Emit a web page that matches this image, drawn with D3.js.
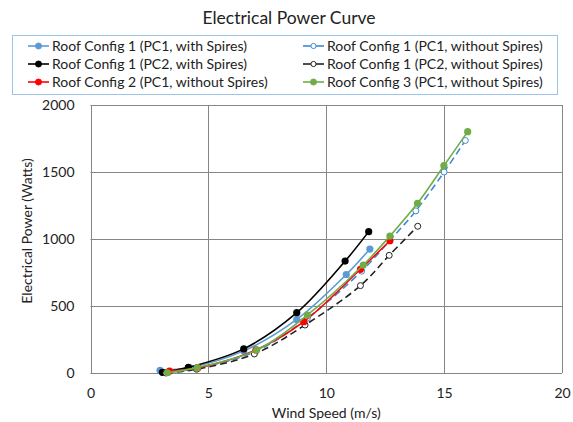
<!DOCTYPE html>
<html lang="en">

<head>
    <meta charset="utf-8">
    <style>
        body {
            margin: 0;
            background: #fff;
            font-family: Lato, 'Open Sans', sans-serif;
        }
    </style>
</head>

<body>
    <div class='chart'></div>
    <script src="https://d3js.org/d3.v7.min.js"></script>
    <script>
        // values: [wind speed, power]
        const pc1With = [[2.95, 20], [4.2, 40], [6.5, 165], [8.75, 400], [10.85, 735], [11.85, 925]];
        const pc1Without = [[3.3, 5], [4.5, 35], [7.0, 160], [9.2, 410], [11.5, 760], [12.7, 990], [13.8, 1210], [15.0, 1500], [15.9, 1735]];
        const pc2With = [[3.05, 5], [4.15, 42], [6.5, 180], [8.75, 450], [10.8, 835], [11.8, 1055]];
        const pc2Without = [[3.2, 0], [4.5, 28], [6.95, 142], [9.1, 358], [11.45, 652], [12.67, 878], [13.88, 1095]];
        const cfg2Without = [[3.35, 15], [4.55, 38], [7.02, 172], [9.05, 383], [11.45, 774], [12.7, 987]];
        const cfg3Without = [[3.26, 2], [4.53, 40], [7.05, 172], [9.2, 433], [11.57, 806], [12.7, 1022], [13.87, 1266], [14.99, 1547], [16.0, 1801]];

        const xTicks = [0, 5, 10, 15, 20];
        const yTicks = [0, 500, 1000, 1500, 2000];

        const series = [
            { name: 'Roof Config 1 (PC1, with Spires)', data: pc1With, color: '#5b9bd5', dash: null, open: false },
            { name: 'Roof Config 1 (PC1, without Spires)', data: pc1Without, color: '#3c8ad6', dash: '7,4', open: true },
            { name: 'Roof Config 1 (PC2, with Spires)', data: pc2With, color: '#000000', dash: null, open: false },
            { name: 'Roof Config 1 (PC2, without Spires)', data: pc2Without, color: '#222222', dash: '7,4', open: true },
            { name: 'Roof Config 2 (PC1, without Spires)', data: cfg2Without, color: '#ff0000', dash: null, open: false },
            { name: 'Roof Config 3 (PC1, without Spires)', data: cfg3Without, color: '#70ad47', dash: null, open: false }
        ];

        const width = 573, height = 422;
        const pLeft = 90.5, pRight = 562, pTop = 105, pBottom = 373;

        const svg = d3.select('.chart').append('svg')
            .attr('width', width)
            .attr('height', height);

        const x = d3.scaleLinear().domain([0, 20]).range([pLeft, pRight]);
        const y = d3.scaleLinear().domain([0, 2000]).range([pBottom, pTop]);

        // title
        svg.append('text')
            .attr('x', 289).attr('y', 24)
            .attr('text-anchor', 'middle')
            .style('font-size', '17.5px').style('fill', '#222')
            .text('Electrical Power Curve');

        // grid
        svg.append('g').selectAll('line.gx')
            .data(xTicks)
            .enter().append('line')
            .attr('x1', d => Math.round(x(d)) + 0.5).attr('x2', d => Math.round(x(d)) + 0.5)
            .attr('y1', pTop).attr('y2', pBottom)
            .attr('stroke', '#868686');
        svg.append('g').selectAll('line.gy')
            .data(yTicks)
            .enter().append('line')
            .attr('y1', d => Math.round(y(d)) + 0.5).attr('y2', d => Math.round(y(d)) + 0.5)
            .attr('x1', pLeft).attr('x2', pRight)
            .attr('stroke', '#868686');

        // axes (labels only)
        const xAxis = svg.append('g')
            .attr('transform', `translate(0,${pBottom + 12})`)
            .call(d3.axisBottom(x).tickValues(xTicks).tickSize(0).tickFormat(d3.format('d')));
        const yAxis = svg.append('g')
            .attr('transform', `translate(${pLeft - 13},0)`)
            .call(d3.axisLeft(y).tickValues(yTicks).tickSize(0).tickFormat(d3.format('d')));
        [xAxis, yAxis].forEach(a => {
            a.select('.domain').remove();
            a.selectAll('text').style('font-size', '14px').style('fill', '#222')
                .style('font-family', 'Lato, sans-serif');
        });

        svg.append('text')
            .attr('x', (pLeft + pRight) / 2).attr('y', 418)
            .attr('text-anchor', 'middle')
            .style('font-size', '14px').style('fill', '#222')
            .text('Wind Speed (m/s)');
        svg.append('text')
            .attr('transform', `translate(32,${(pTop + pBottom) / 2 - 8}) rotate(-90)`)
            .attr('text-anchor', 'middle')
            .style('font-size', '14px').style('fill', '#222')
            .text('Electrical Power (Watts)');

        // lines
        const line = d3.line()
            .x(d => x(d[0])).y(d => y(d[1]))
            .curve(d3.curveCatmullRom.alpha(0.5));

        const plot = svg.append('g');
        series.forEach(s => {
            plot.append('path')
                .datum(s.data)
                .attr('d', line)
                .attr('fill', 'none')
                .attr('stroke', s.color)
                .attr('stroke-width', 1.6)
                .attr('stroke-dasharray', s.dash);
            plot.selectAll(null)
                .data(s.data)
                .enter().append('circle')
                .attr('cx', d => x(d[0])).attr('cy', d => y(d[1]))
                .attr('r', s.open ? 3 : 3.6)
                .attr('fill', s.open ? '#fff' : s.color)
                .attr('stroke', s.color)
                .attr('stroke-width', s.open ? 1 : 0);
        });

        // legend
        const legend = svg.append('g');
        legend.append('rect')
            .attr('x', 12.5).attr('y', 35.5)
            .attr('width', 545).attr('height', 59)
            .attr('fill', '#fff')
            .attr('stroke', '#9dc3e6');
        const item = legend.selectAll('g.item')
            .data(series)
            .enter().append('g')
            .attr('transform', (d, i) => `translate(${i % 2 ? 303 : 28},${46 + Math.floor(i / 2) * 18})`);
        item.append('line')
            .attr('x1', 0).attr('x2', 21)
            .attr('stroke', d => d.color).attr('stroke-width', 1.6);
        item.append('circle')
            .attr('cx', 10.5).attr('r', d => d.open ? 2.6 : 3)
            .attr('fill', d => d.open ? '#fff' : d.color)
            .attr('stroke', d => d.color).attr('stroke-width', 1);
        item.append('text')
            .attr('x', 24).attr('dy', '0.35em')
            .style('font-size', '14px').style('fill', '#222')
            .text(d => d.name);
    </script>
</body>

</html>
